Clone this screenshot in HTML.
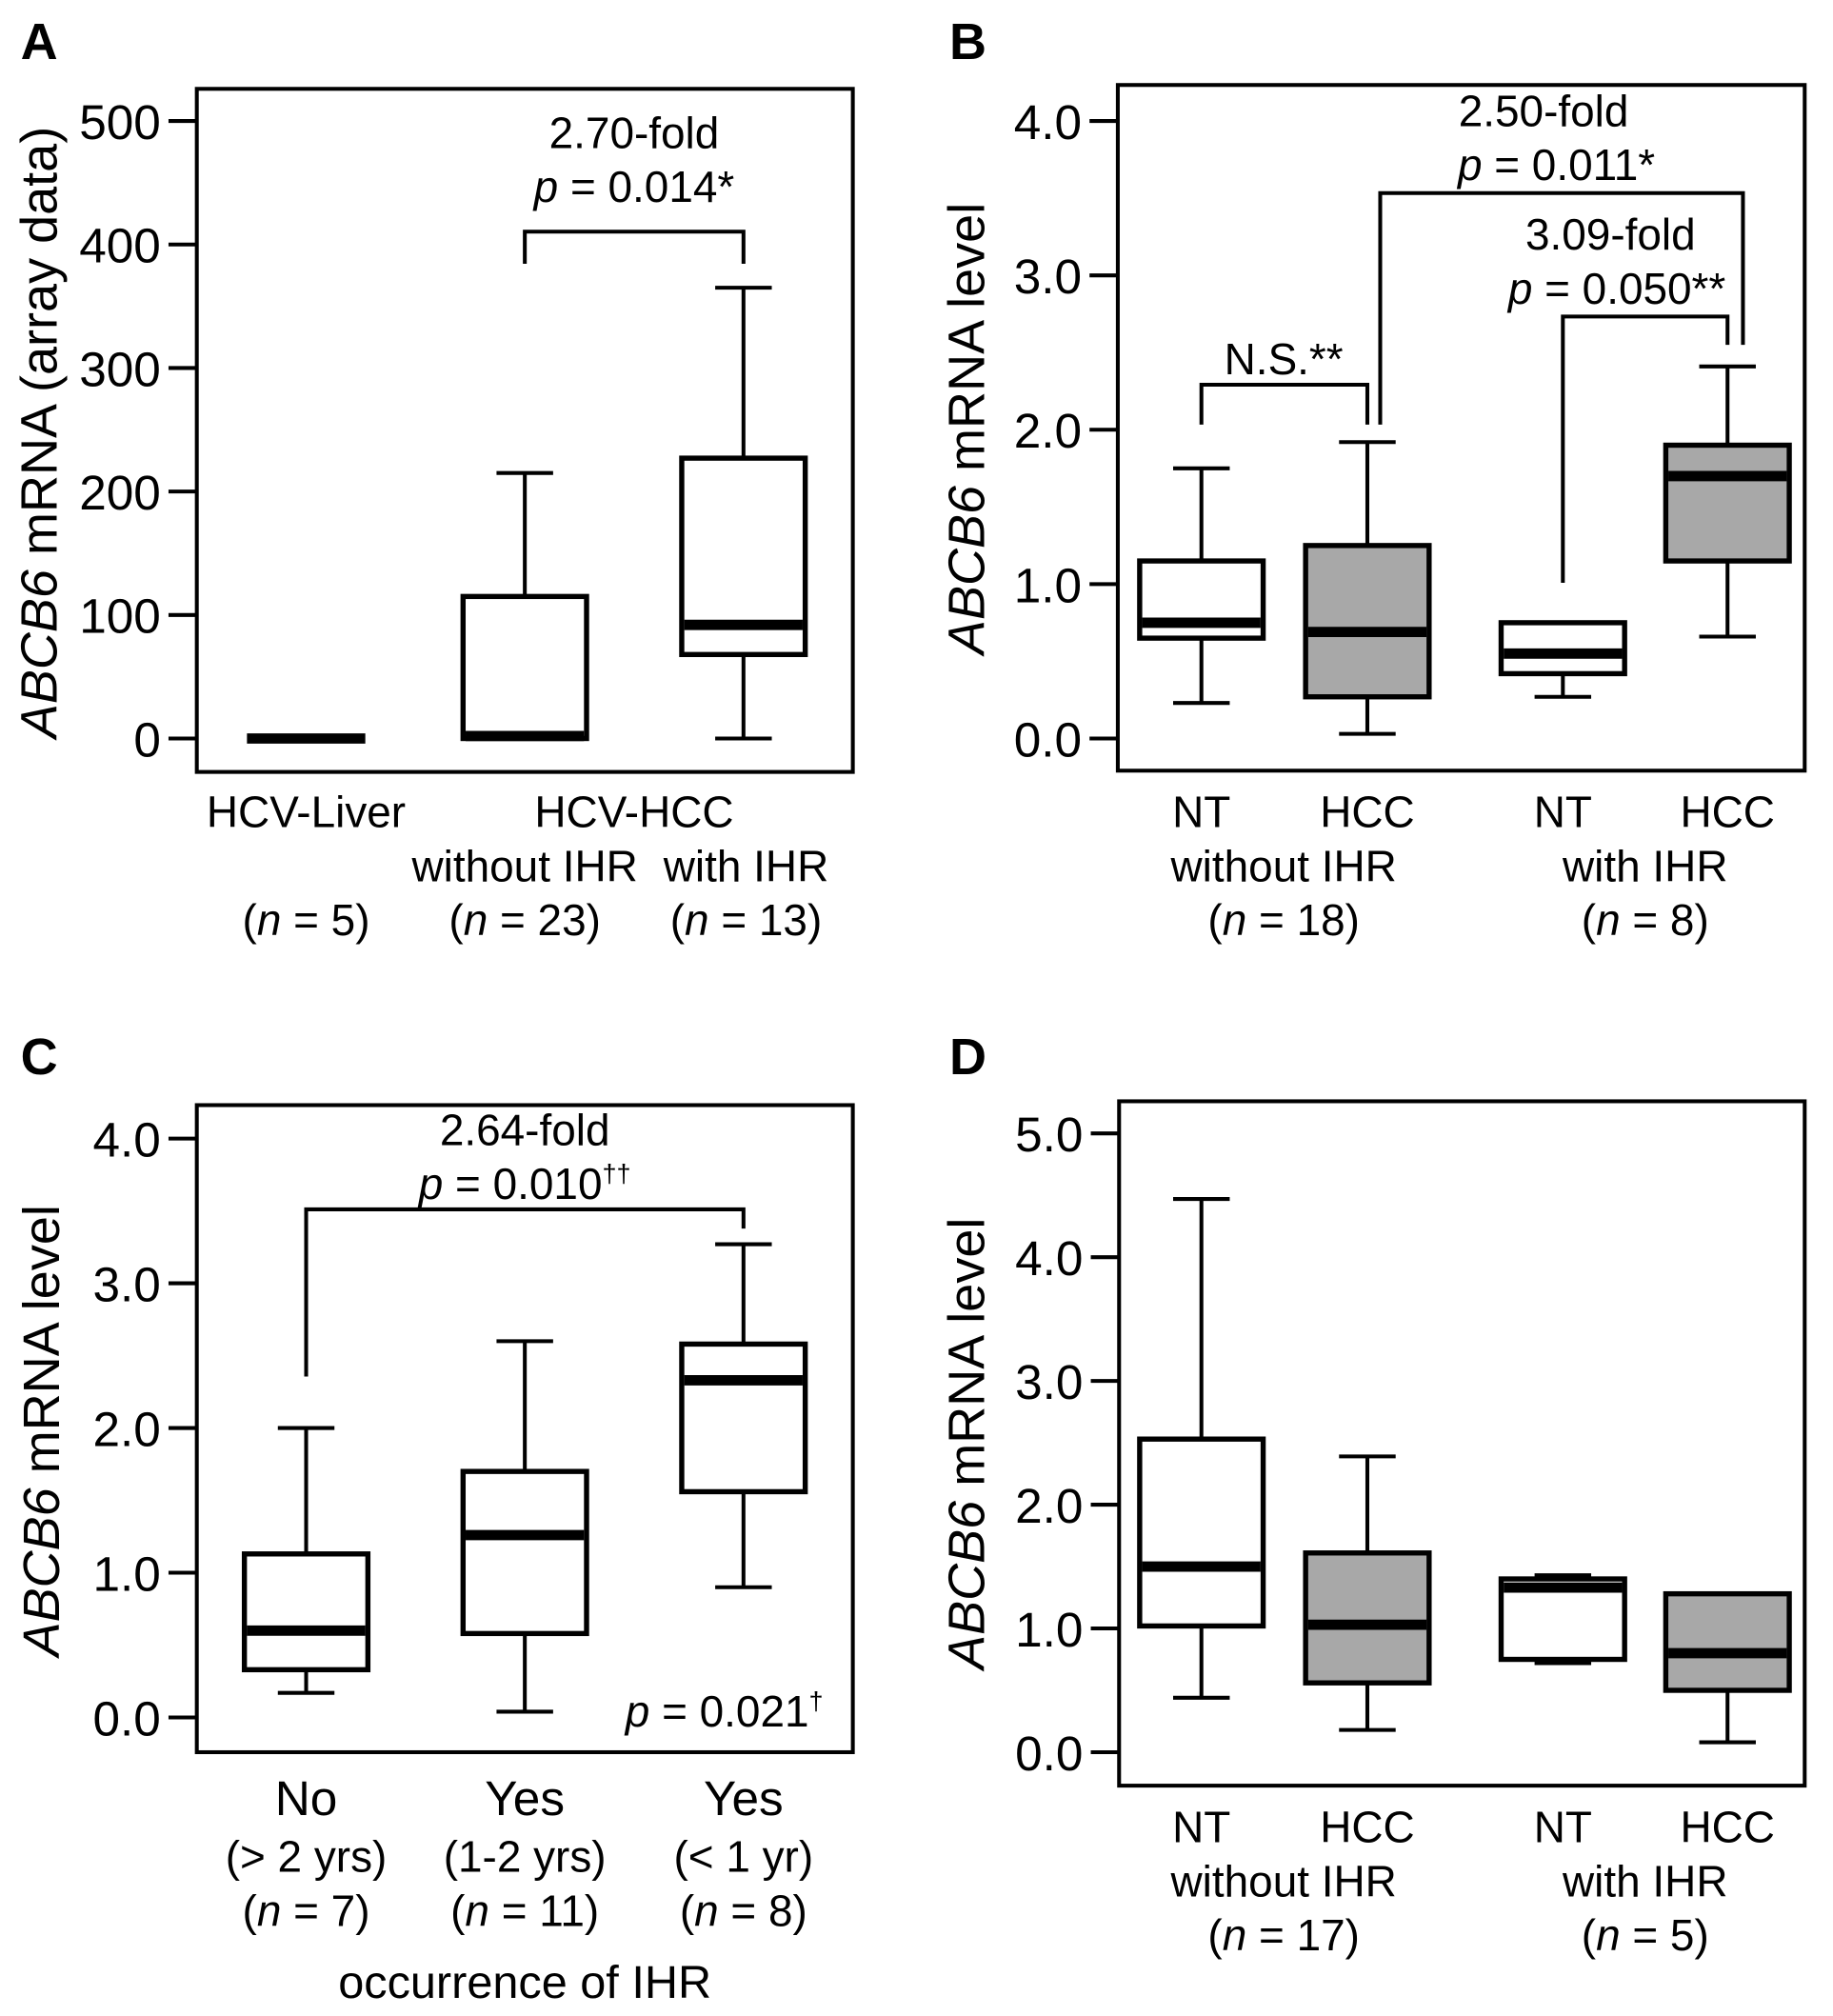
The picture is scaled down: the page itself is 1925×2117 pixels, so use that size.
<!DOCTYPE html>
<html><head><meta charset="utf-8"><style>
html,body{margin:0;padding:0;background:#fff}
svg{display:block}
text{font-family:"Liberation Sans",Arial,sans-serif;fill:#000}
</style></head><body>
<svg id="fig" width="1925" height="2117" viewBox="0 0 1425 1567" xmlns="http://www.w3.org/2000/svg">
</svg>
<script>
// Panel A data
const aCats = ["HCV-Liver","without IHR","with IHR"];
const aLow = [0,0,0];
const aQ1 = [0,0,68];
const aMed = [0,2,92];
const aQ3 = [0,115,227];
const aHigh = [0,215,365];
const aTicks = [0,100,200,300,400,500];
// Panel B data
const bCats = ["NT-without","HCC-without","NT-with","HCC-with"];
const bLow = [0.23,0.03,0.27,0.66];
const bQ1 = [0.65,0.27,0.42,1.15];
const bMed = [0.75,0.69,0.55,1.70];
const bQ3 = [1.15,1.25,0.75,1.90];
const bHigh = [1.75,1.92,0.75,2.41];
const bTicks = [0,1,2,3,4];
// Panel C data
const cCats = ["No","Yes 1-2","Yes <1"];
const cLow = [0.17,0.04,0.90];
const cQ1 = [0.33,0.58,1.56];
const cMed = [0.60,1.26,2.33];
const cQ3 = [1.13,1.70,2.58];
const cHigh = [2.00,2.60,3.27];
const cTicks = [0,1,2,3,4];
// Panel D data
const dCats = ["NT-without","HCC-without","NT-with","HCC-with"];
const dLow = [0.44,0.18,0.72,0.08];
const dQ1 = [1.02,0.56,0.75,0.50];
const dMed = [1.50,1.03,1.33,0.80];
const dQ3 = [2.53,1.61,1.40,1.28];
const dHigh = [4.47,2.39,1.43,1.28];
const dTicks = [0,1,2,3,4,5];

const svg = document.getElementById('fig');
const NS = "http://www.w3.org/2000/svg";
function el(tag, attrs, parent){ const e=document.createElementNS(NS,tag); for(const k in attrs) e.setAttribute(k,attrs[k]); (parent||svg).appendChild(e); return e; }
function txt(x,y,s,size,anchor,parent,extra){ const t=el('text',Object.assign({x:x,y:y,'font-size':size,'text-anchor':anchor||'middle'},extra||{}),parent); t.innerHTML=s; return t; }

function panel(name, frame, y0px, y1px, vmax, ticks, fmt, centers, fills, low,q1,med,q3,high){
  const g = el('g',{});
  
  
  const ys = v => y0px + (y1px - y0px) * v / vmax;
  const fr = el('rect',{x:frame[0],y:frame[1],width:frame[2]-frame[0],height:frame[3]-frame[1],fill:'none',stroke:'#000','stroke-width':3},g);
  
  
  ticks.forEach(t=>{
    const y=ys(t);
    const l=el('line',{x1:frame[0]-22,x2:frame[0],y1:y,y2:y,stroke:'#000','stroke-width':3},g);
    
    
    const tl=txt(frame[0]-28,y+14,fmt(t),38,'end',g);
    
    
  });
  centers.forEach((cx,i)=>{
    const b=el('g',{},g);
    
    
    const hw=48, cw=22;
    el('line',{x1:cx,x2:cx,y1:ys(high[i]),y2:ys(q3[i]),stroke:'#000','stroke-width':3},b);
    el('line',{x1:cx,x2:cx,y1:ys(q1[i]),y2:ys(low[i]),stroke:'#000','stroke-width':3},b);
    el('line',{x1:cx-cw,x2:cx+cw,y1:ys(high[i]),y2:ys(high[i]),stroke:'#000','stroke-width':3},b);
    el('line',{x1:cx-cw,x2:cx+cw,y1:ys(low[i]),y2:ys(low[i]),stroke:'#000','stroke-width':3},b);
    if(q3[i]>q1[i]) el('rect',{x:cx-hw,y:ys(q3[i]),width:2*hw,height:ys(q1[i])-ys(q3[i]),fill:fills[i],stroke:'#000','stroke-width':4},b);
    el('line',{x1:cx-hw+2,x2:cx+hw-2,y1:ys(med[i]),y2:ys(med[i]),stroke:'#000','stroke-width':8},b);
  });
  return {g, ys};
}
function bracket(g, x1, x2, y, l1, l2){
  const p=el('path',{d:`M${x1},${l1} V${y} H${x2} V${l2}`,fill:'none',stroke:'#000','stroke-width':3},g);
  
  
}
function letter(x,y,s){ const t=txt(x,y,s,40,'start',svg,{'font-weight':'bold'});   }
function ytitle(x,y,html){ const t=el('text',{x:0,y:0,'font-size':40,'text-anchor':'middle',transform:`translate(${x},${y}) rotate(-90)`}); t.innerHTML=html;   }
function lab(x,y,s,size){ const t=txt(x,y,s,size||34,'middle');   return t; }
const f0 = v=>String(v), f1 = v=>v.toFixed(1);
const W='#fff', G='#a8a8a8';

// Panel A
letter(16,46,'A');
const A = panel('a',[153,69,663,600],574,94,500,aTicks,f0,[238,408,578],[W,W,W],aLow,aQ1,aMed,aQ3,aHigh);
bracket(A.g,408,578,180,205,205);
txt(493,115,'2.70-fold',34,'middle',A.g);
txt(493,157,'<tspan font-style="italic">p</tspan> = 0.014*',34,'middle',A.g);
ytitle(44,336,'<tspan font-style="italic">ABCB6</tspan> mRNA (array data)');
lab(238,643,'HCV-Liver'); lab(493,643,'HCV-HCC'); lab(408,685,'without IHR'); lab(580,685,'with IHR');
lab(238,727,'(<tspan font-style="italic">n</tspan> = 5)'); lab(408,727,'(<tspan font-style="italic">n</tspan> = 23)'); lab(580,727,'(<tspan font-style="italic">n</tspan> = 13)');

// Panel B
letter(738,46,'B');
const B = panel('b',[869,66,1403,599],574,94,4,bTicks,f1,[934,1063,1215,1343],[W,G,W,G],bLow,bQ1,bMed,bQ3,bHigh);
bracket(B.g,934,1063,299,330,330);
bracket(B.g,1215,1343,246,453,268);
bracket(B.g,1073,1355,150,330,268);
txt(998,291,'N.S.**',34,'middle',B.g);
txt(1252,194,'3.09-fold',34,'middle',B.g);
txt(1257,236,'<tspan font-style="italic">p</tspan> = 0.050**',34,'middle',B.g);
txt(1200,98,'2.50-fold',34,'middle',B.g);
txt(1210,140,'<tspan font-style="italic">p</tspan> = 0.011*',34,'middle',B.g);
ytitle(765,333,'<tspan font-style="italic">ABCB6</tspan> mRNA level');
lab(934,643,'NT'); lab(1063,643,'HCC'); lab(1215,643,'NT'); lab(1343,643,'HCC');
lab(998,685,'without IHR'); lab(1279,685,'with IHR');
lab(998,727,'(<tspan font-style="italic">n</tspan> = 18)'); lab(1279,727,'(<tspan font-style="italic">n</tspan> = 8)');

// Panel C
letter(16,835,'C');
const C = panel('c',[153,859,663,1362],1335,885,4,cTicks,f1,[238,408,578],[W,W,W],cLow,cQ1,cMed,cQ3,cHigh);
bracket(C.g,238,578,940,1070,955);
txt(408,890,'2.64-fold',34,'middle',C.g);
txt(408,932,'<tspan font-style="italic">p</tspan> = 0.010<tspan font-size="20" dy="-13">††</tspan>',34,'middle',C.g);
txt(640,1342,'<tspan font-style="italic">p</tspan> = 0.021<tspan font-size="20" dy="-13">†</tspan>',34,'end',C.g);
ytitle(46,1112,'<tspan font-style="italic">ABCB6</tspan>  mRNA level');
lab(238,1411,'No',38); lab(408,1411,'Yes',38); lab(578,1411,'Yes',38);
lab(238,1455,'(&gt; 2 yrs)'); lab(408,1455,'(1-2 yrs)'); lab(578,1455,'(&lt; 1 yr)');
lab(238,1497,'(<tspan font-style="italic">n</tspan> = 7)'); lab(408,1497,'(<tspan font-style="italic">n</tspan> = 11)'); lab(578,1497,'(<tspan font-style="italic">n</tspan> = 8)');
lab(408,1553,'occurrence of IHR',36);

// Panel D
letter(738,835,'D');
const D = panel('d',[870,856,1403,1388],1362,881,5,dTicks,f1,[934,1063,1215,1343],[W,G,W,G],dLow,dQ1,dMed,dQ3,dHigh);
ytitle(765,1122,'<tspan font-style="italic">ABCB6</tspan> mRNA level');
lab(934,1432,'NT'); lab(1063,1432,'HCC'); lab(1215,1432,'NT'); lab(1343,1432,'HCC');
lab(998,1474,'without IHR'); lab(1279,1474,'with IHR');
lab(998,1516,'(<tspan font-style="italic">n</tspan> = 17)'); lab(1279,1516,'(<tspan font-style="italic">n</tspan> = 5)');
</script>
</body></html>
